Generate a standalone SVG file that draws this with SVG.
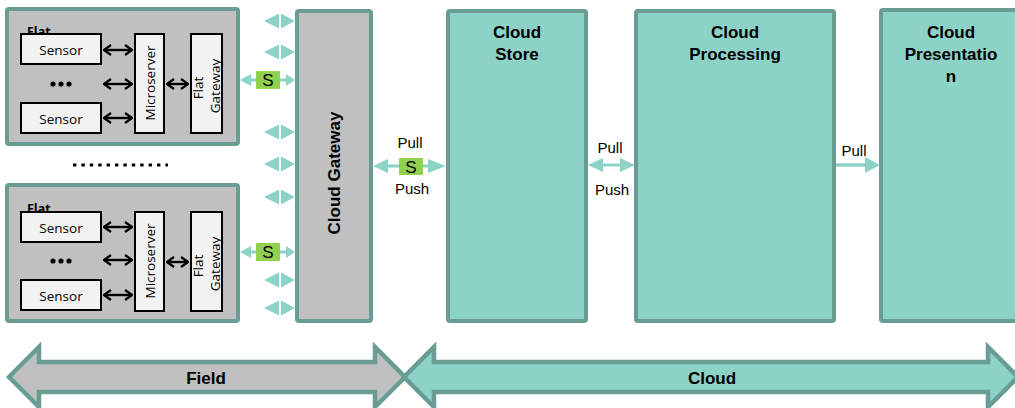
<svg xmlns="http://www.w3.org/2000/svg" xmlns:xlink="http://www.w3.org/1999/xlink" width="1015" height="408" viewBox="0 0 1015 408">
<style>
.flat{fill:#c0c0c0;stroke:#699c93;stroke-width:4}
.inner{fill:#f2f2f2;stroke:#000;stroke-width:2}
.gw{fill:#c0c0c0;stroke:#699c93;stroke-width:4}
.cloud{fill:#8dd2c7;stroke:#699c93;stroke-width:4}
.lbl{font-family:"Open Sans",Lato,sans-serif;font-size:13.5px;fill:#000}
.flatlbl{font-family:"Open Sans",Lato,sans-serif;font-size:12.5px;font-weight:bold;fill:#000}
.title{font-family:"Liberation Sans",Arial,sans-serif;font-size:17px;font-weight:bold;fill:#000;text-anchor:middle}
.pp{font-family:"Liberation Sans",Arial,sans-serif;font-size:15px;fill:#000;text-anchor:middle}
.sbox{fill:#92d050}
.stxt{font-family:"Liberation Sans",Arial,sans-serif;font-size:17px;fill:#000;text-anchor:middle}
.blk{stroke:#000;stroke-width:2.4;fill:none;marker-start:url(#vh);marker-end:url(#vh)}
.tl{fill:#8dd2c7}
.tline{stroke:#8dd2c7;stroke-width:3}
.dots{fill:#000}
</style>
<defs>
<marker id="vh" viewBox="0 0 9 12" refX="8" refY="6" markerWidth="9" markerHeight="12" markerUnits="userSpaceOnUse" orient="auto-start-reverse">
<path d="M1,1 L8,6 L1,11" fill="none" stroke="#000" stroke-width="2.2"/>
</marker>
<g id="dbl">
<path d="M264,0 L279,-7.5 L279,7.5 Z" class="tl"/>
<path d="M281,-7.5 L295,0 L281,7.5 Z" class="tl"/>
</g>
</defs>

<g id="flat1">
<rect class="flat" x="7" y="9" width="231" height="135" rx="2"/>
<text class="flatlbl" x="27" y="36">Flat</text>
<g id="sensor1a"><rect class="inner" x="21" y="34" width="80" height="30"/><text class="lbl" x="61" y="54.5" text-anchor="middle">Sensor</text></g>
<g id="sensor1b"><rect class="inner" x="21" y="103" width="80" height="30"/><text class="lbl" x="61" y="123.5" text-anchor="middle">Sensor</text></g>
<g id="dots1" class="dots"><circle cx="53" cy="84" r="2.6"/><circle cx="61" cy="84" r="2.6"/><circle cx="69" cy="84" r="2.6"/></g>
<g id="micro1"><rect class="inner" x="135" y="34" width="29" height="99"/><text class="lbl" transform="translate(155,83) rotate(-90)" text-anchor="middle">Microserver</text></g>
<g id="flatgw1"><rect class="inner" x="191" y="34" width="31" height="99"/><text class="lbl" transform="translate(203,86) rotate(-90)" text-anchor="middle"><tspan x="-2" y="0">Flat</tspan><tspan x="0" y="17">Gateway</tspan></text></g>
</g>

<g id="separator"><line x1="73" y1="165" x2="168" y2="165" stroke="#000" stroke-width="3" stroke-dasharray="3.4 5"/></g>

<g id="flat2">
<rect class="flat" x="7" y="185" width="231" height="136" rx="2"/>
<text class="flatlbl" x="27" y="213">Flat</text>
<g id="sensor2a"><rect class="inner" x="21" y="212" width="80" height="30"/><text class="lbl" x="61" y="232.5" text-anchor="middle">Sensor</text></g>
<g id="sensor2b"><rect class="inner" x="21" y="280" width="80" height="30"/><text class="lbl" x="61" y="300.5" text-anchor="middle">Sensor</text></g>
<g id="dots2" class="dots"><circle cx="53" cy="261" r="2.6"/><circle cx="61" cy="261" r="2.6"/><circle cx="69" cy="261" r="2.6"/></g>
<g id="micro2"><rect class="inner" x="135" y="212" width="29" height="99"/><text class="lbl" transform="translate(155,261) rotate(-90)" text-anchor="middle">Microserver</text></g>
<g id="flatgw2"><rect class="inner" x="191" y="212" width="31" height="99"/><text class="lbl" transform="translate(203,264) rotate(-90)" text-anchor="middle"><tspan x="-2" y="0">Flat</tspan><tspan x="0" y="17">Gateway</tspan></text></g>
</g>

<g id="cloudgateway">
<rect class="gw" x="297" y="11" width="74" height="310" rx="2"/>
<text class="title" transform="translate(340,173) rotate(-90)">Cloud Gateway</text>
</g>

<g id="cloudstore">
<rect class="cloud" x="448" y="11" width="138" height="310" rx="2"/>
<text class="title"><tspan x="517" y="38">Cloud</tspan><tspan x="517" y="60">Store</tspan></text>
</g>

<g id="cloudprocessing">
<rect class="cloud" x="636" y="11" width="198" height="310" rx="2"/>
<text class="title"><tspan x="735" y="38">Cloud</tspan><tspan x="735" y="60">Processing</tspan></text>
</g>

<g id="cloudpresentation">
<rect class="cloud" x="881" y="10" width="200" height="311" rx="2"/>
<text class="title"><tspan x="951" y="38">Cloud</tspan><tspan x="951" y="60">Presentatio</tspan><tspan x="951" y="82">n</tspan></text>
</g>

<g id="connectors">
<line class="blk" x1="104" y1="50" x2="132" y2="50"/>
<line class="blk" x1="104" y1="84" x2="132" y2="84"/>
<line class="blk" x1="104" y1="118" x2="132" y2="118"/>
<line class="blk" x1="167" y1="84" x2="188" y2="84"/>
<line class="blk" x1="104" y1="227" x2="132" y2="227"/>
<line class="blk" x1="104" y1="260" x2="132" y2="260"/>
<line class="blk" x1="104" y1="295" x2="132" y2="295"/>
<line class="blk" x1="167" y1="262" x2="188" y2="262"/>

<use xlink:href="#dbl" href="#dbl" y="21"/>
<use xlink:href="#dbl" href="#dbl" y="52"/>
<use xlink:href="#dbl" href="#dbl" y="132"/>
<use xlink:href="#dbl" href="#dbl" y="164"/>
<use xlink:href="#dbl" href="#dbl" y="197"/>
<use xlink:href="#dbl" href="#dbl" y="280"/>
<use xlink:href="#dbl" href="#dbl" y="308"/>

<g id="s1">
<line class="tline" x1="248" y1="80" x2="288" y2="80"/>
<path class="tl" d="M240,80 L251,74 L251,86 Z"/>
<path class="tl" d="M286,74 L295,80 L286,86 Z"/>
<rect class="sbox" x="256" y="71" width="24" height="18" rx="1"/>
<text class="stxt" x="268" y="86">S</text>
</g>
<g id="s2">
<line class="tline" x1="248" y1="252" x2="288" y2="252"/>
<path class="tl" d="M240,252 L251,246 L251,258 Z"/>
<path class="tl" d="M286,246 L295,252 L286,258 Z"/>
<rect class="sbox" x="256" y="243" width="24" height="18" rx="1"/>
<text class="stxt" x="268" y="258">S</text>
</g>
<g id="s3">
<line class="tline" x1="380" y1="166" x2="440" y2="166"/>
<path class="tl" d="M373,166 L388,159 L388,173 Z"/>
<path class="tl" d="M428,159 L446,166 L428,173 Z"/>
<rect class="sbox" x="399" y="158" width="24" height="17" rx="1"/>
<text class="stxt" x="411" y="172.5">S</text>
<text class="pp" x="410" y="148">Pull</text>
<text class="pp" x="412" y="194">Push</text>
</g>
<g id="pp2">
<line class="tline" x1="600" y1="165" x2="623" y2="165"/>
<path class="tl" d="M588,165 L603,158 L603,172 Z"/>
<path class="tl" d="M620,158 L635,165 L620,172 Z"/>
<text class="pp" x="610" y="153">Pull</text>
<text class="pp" x="612" y="195">Push</text>
</g>
<g id="pull3">
<line x1="836" y1="165" x2="867" y2="165" stroke="#8dd2c7" stroke-width="3.5"/>
<path class="tl" d="M865,157 L880,165 L865,173 Z"/>
<text class="pp" x="854" y="156">Pull</text>
</g>
</g>

<g id="fieldband">
<path d="M9,377 L39,347 L39,362 L375,362 L375,347 L405,377 L375,407 L375,392 L39,392 L39,407 Z" fill="#c0c0c0" stroke="#699c93" stroke-width="4.5" stroke-linejoin="miter"/>
<text class="title" x="206" y="384">Field</text>
</g>
<g id="cloudband">
<path d="M404,377 L434,347 L434,362 L988,362 L988,347 L1018,377 L988,407 L988,392 L434,392 L434,407 Z" fill="#8dd2c7" stroke="#699c93" stroke-width="4.5" stroke-linejoin="miter"/>
<text class="title" x="712" y="384">Cloud</text>
</g>
</svg>
